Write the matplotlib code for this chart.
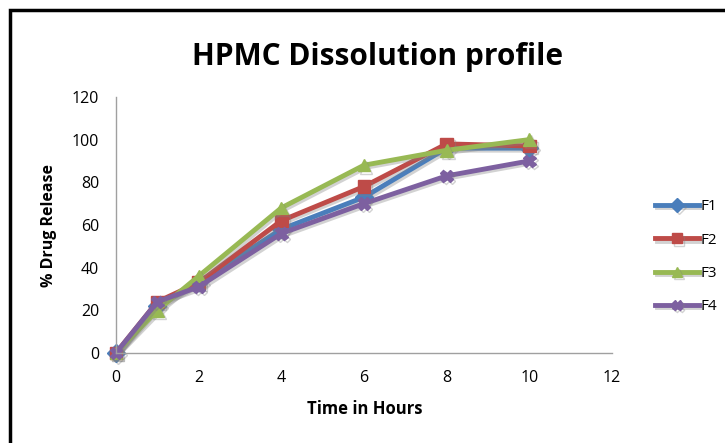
import matplotlib
matplotlib.use("Agg")
import matplotlib.pyplot as plt
import matplotlib.patheffects as pe
from matplotlib.patches import Rectangle

# time points (hours) and % drug release for each formulation
hours = [0, 1, 2, 4, 6, 8, 10]
f1 = [0, 22, 33, 58, 73, 96, 96]
f2 = [0, 24, 33, 62, 78, 98, 97]
f3 = [0, 20, 36, 68, 88, 95, 100]
f4 = [0, 24, 31, 56, 70, 83, 90]

series = [("F1", f1, "#4a7ebb", "D"),
          ("F2", f2, "#be4b48", "s"),
          ("F3", f3, "#98b954", "^"),
          ("F4", f4, "#7d60a0", "X")]

plt.rcParams['font.family'] = ['Open Sans', 'DejaVu Sans']

fig = plt.figure(figsize=(7.25, 4.43), dpi=100)
ax = fig.add_axes([0.16, 0.2032, 0.684, 0.578])

shadow = [pe.SimpleLineShadow(offset=(1.5, -1.5), shadow_color='gray', alpha=0.35), pe.Normal()]
for name, vals, col, mk in series:
    ax.plot(hours, vals, color=col, lw=3.5, marker=mk, ms=9, label=name,
            path_effects=shadow, clip_on=False)

ax.set_xlim(0, 12)
ax.set_ylim(0, 120)
ax.set_xticks(range(0, 13, 2))
ax.set_yticks(range(0, 121, 20))
ax.tick_params(length=0, labelsize=11.5)
ax.tick_params(axis='x', pad=12)
ax.tick_params(axis='y', pad=12)
for s in ['top', 'right']:
    ax.spines[s].set_visible(False)
for s in ['left', 'bottom']:
    ax.spines[s].set_color('#a0a0a0')
    ax.spines[s].set_linewidth(1)

fig.text(0.521, 0.872, "HPMC Dissolution profile", ha='center', va='center',
         fontsize=21.5, fontweight='bold')
fig.text(0.503, 0.077, "Time in Hours", ha='center', va='center',
         fontsize=12, fontweight='bold')
fig.text(0.067, 0.49, "% Drug Release", ha='center', va='center',
         fontsize=11.5, fontweight='bold', rotation=90)

ax.legend(loc='center left', bbox_to_anchor=(0.895, 0.42), bbox_transform=fig.transFigure,
          frameon=False, fontsize=11, handlelength=2.9, handletextpad=0.1,
          labelspacing=1.2, borderaxespad=0, markerscale=0.8)

# outer black frame (cut off on the right and bottom)
fig.patches.append(Rectangle((10 / 725, -0.1), 1.2, 1 - 10.5 / 443 + 0.1,
                             transform=fig.transFigure, fill=False,
                             edgecolor='black', linewidth=2.5))

fig.savefig("out.png", dpi=100)
